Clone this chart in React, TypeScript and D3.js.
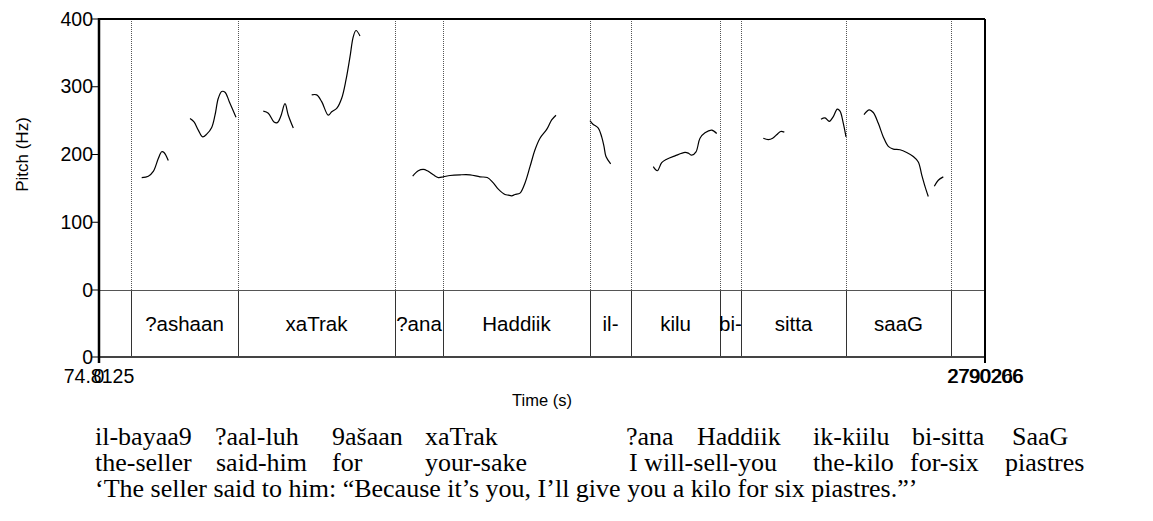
import { useEffect, useRef } from "react";
import * as d3 from "d3";

const width = 1153;
const height = 521;
const frame = { left: 99, right: 985, top: 19, pitchBottom: 290, tierBottom: 357 };

// time axis (s, relative to 74.8125)
const timeDomain = [0, 2.790206];
const pitchTicks = [0, 100, 200, 300, 400];

const boundaries = [0.1008, 0.4377, 0.9322, 1.0833, 1.5463, 1.6754, 1.9557, 2.0218, 2.3525, 2.6831];
const words = ["?ashaan", "xaTrak", "?ana", "Haddiik", "il-", "kilu", "bi-", "sitta", "saaG"];

// pitch contours [time, Hz]
const pitch1 = [[0.1345, 166], [0.1553, 168], [0.171, 175], [0.1867, 194], [0.1975, 204], [0.2047, 203], [0.2182, 191]];
const pitch2 = [[0.2866, 253], [0.2992, 248], [0.3127, 236], [0.3266, 226], [0.3392, 230], [0.3549, 240], [0.3653, 258], [0.3757, 283], [0.3864, 293], [0.3968, 292], [0.4103, 278], [0.4314, 255]];
const pitch3 = [[0.5174, 264], [0.5332, 261], [0.5511, 248], [0.5615, 247], [0.5722, 256], [0.5857, 275], [0.5961, 258], [0.6119, 239]];
const pitch4 = [[0.6698, 288], [0.6856, 288], [0.7013, 278], [0.7221, 258], [0.7328, 263], [0.7486, 268], [0.7643, 283], [0.7778, 310], [0.7904, 344], [0.8008, 374], [0.8093, 383], [0.8219, 375]];
const pitch5 = [[0.9879, 168], [1.0055, 176], [1.0213, 178], [1.0339, 176], [1.0528, 170], [1.0685, 166], [1.0843, 167], [1.1054, 169], [1.1369, 170], [1.1684, 170], [1.1998, 167], [1.2228, 166], [1.2417, 158], [1.2575, 149], [1.2786, 141], [1.289, 140], [1.2997, 139], [1.3101, 141], [1.3258, 143], [1.3416, 158], [1.3573, 182], [1.3731, 207], [1.3888, 224], [1.4099, 237], [1.4256, 251], [1.4392, 258]];
const pitch6 = [[1.5463, 250], [1.5548, 245], [1.5724, 239], [1.5831, 226], [1.5903, 212], [1.5966, 197], [1.6114, 186]];
const pitch7 = [[1.7456, 182], [1.7582, 176], [1.7721, 188], [1.7878, 193], [1.8139, 198], [1.8454, 203], [1.8558, 202], [1.8665, 199], [1.8801, 204], [1.8927, 224], [1.9084, 232], [1.9295, 236], [1.9453, 231]];
const pitch8 = [[2.092, 224], [2.1078, 222], [2.1216, 224], [2.1361, 230], [2.1468, 234], [2.1582, 233]];
const pitch9 = [[2.2737, 252], [2.2863, 254], [2.2999, 249], [2.3125, 256], [2.3251, 267], [2.3336, 264], [2.344, 246], [2.3525, 226]];
const pitch10 = [[2.4091, 259], [2.4258, 266], [2.4384, 262], [2.4542, 246], [2.4699, 226], [2.4857, 212], [2.5014, 208], [2.5225, 207], [2.5436, 203], [2.5644, 197], [2.5801, 189], [2.5909, 170], [2.6012, 153], [2.6116, 138]];
const pitch11 = [[2.6306, 153], [2.6431, 162], [2.6589, 167]];
const contours = [pitch1, pitch2, pitch3, pitch4, pitch5, pitch6, pitch7, pitch8, pitch9, pitch10, pitch11];

// interlinear gloss
const glossLine1 = ["il-bayaa9", "?aal-luh", "9ašaan", "xaTrak", "?ana", "Haddiik", "ik-kiilu", "bi-sitta", "SaaG"];
const glossLine2 = ["the-seller", "said-him", "for", "your-sake", "I will-sell-you", "the-kilo", "for-six", "piastres"];
const translation = "\u2018The seller said to him: \u201cBecause it\u2019s you, I\u2019ll give you a kilo for six piastres.\u201d\u2019";
const glossX1 = [95, 215, 332, 425, 626, 697, 813, 912, 1012];
const glossX2 = [95, 216, 332, 425, 629, 813, 910, 1005];

const App = () => {
  const svgRef = useRef<SVGSVGElement>(null);

  useEffect(() => {
    const svg = d3.select(svgRef.current);
    svg.selectAll("*").remove();
    const sans = "'Liberation Sans', Arial, sans-serif";
    const serif = "'Liberation Serif', 'Times New Roman', serif";

    const x = d3.scaleLinear().domain(timeDomain).range([frame.left, frame.right]);
    const y = d3.scaleLinear().domain([0, 400]).range([frame.pitchBottom, frame.top]);

    // boundaries in the pitch panel (dotted)
    svg
      .append("g")
      .selectAll("line")
      .data(boundaries)
      .join("line")
      .attr("x1", (d) => Math.round(x(d)) + 0.5)
      .attr("x2", (d) => Math.round(x(d)) + 0.5)
      .attr("y1", frame.top)
      .attr("y2", frame.pitchBottom)
      .attr("stroke", "#555")
      .attr("stroke-width", 1)
      .attr("stroke-dasharray", "1,1");

    // boundaries in the tier
    svg
      .append("g")
      .selectAll("line")
      .data(boundaries)
      .join("line")
      .attr("x1", (d) => Math.round(x(d)) + 0.5)
      .attr("x2", (d) => Math.round(x(d)) + 0.5)
      .attr("y1", frame.pitchBottom)
      .attr("y2", frame.tierBottom)
      .attr("stroke", "#333")
      .attr("stroke-width", 1);

    // tier labels
    svg
      .append("g")
      .selectAll("text")
      .data(words)
      .join("text")
      .attr("x", (_, i) => (x(boundaries[i]) + x(boundaries[i + 1])) / 2)
      .attr("y", 331)
      .attr("text-anchor", "middle")
      .attr("font-family", sans)
      .attr("font-size", 20.5)
      .text((d) => d);

    // pitch contours
    const line = d3
      .line<number[]>()
      .x((d) => x(d[0]))
      .y((d) => y(d[1]))
      .curve(d3.curveCatmullRom);
    svg
      .append("g")
      .selectAll("path")
      .data(contours)
      .join("path")
      .attr("fill", "none")
      .attr("stroke", "#000")
      .attr("stroke-width", 1.2)
      .attr("d", (d) => line(d));

    // separator between pitch and tier
    svg
      .append("line")
      .attr("x1", frame.left)
      .attr("x2", frame.right)
      .attr("y1", frame.pitchBottom + 0.5)
      .attr("y2", frame.pitchBottom + 0.5)
      .attr("stroke", "#555");

    // frame
    svg
      .append("line")
      .attr("x1", frame.left)
      .attr("x2", frame.right)
      .attr("y1", frame.tierBottom)
      .attr("y2", frame.tierBottom)
      .attr("stroke", "#444")
      .attr("stroke-width", 2);
    svg
      .append("line")
      .attr("x1", frame.left)
      .attr("x2", frame.right)
      .attr("y1", frame.top)
      .attr("y2", frame.top)
      .attr("stroke", "#000")
      .attr("stroke-width", 2);
    svg
      .append("line")
      .attr("x1", frame.right)
      .attr("x2", frame.right)
      .attr("y1", frame.top)
      .attr("y2", frame.tierBottom + 6)
      .attr("stroke", "#000")
      .attr("stroke-width", 2);
    svg
      .append("line")
      .attr("x1", frame.left)
      .attr("x2", frame.left)
      .attr("y1", frame.top - 1)
      .attr("y2", frame.tierBottom + 6)
      .attr("stroke", "#000")
      .attr("stroke-width", 2.5);

    // y axis ticks
    const yAxis = svg.append("g");
    yAxis
      .selectAll("line")
      .data(pitchTicks)
      .join("line")
      .attr("x1", frame.left - 7)
      .attr("x2", frame.left)
      .attr("y1", (d) => y(d))
      .attr("y2", (d) => y(d))
      .attr("stroke", "#000");
    yAxis
      .selectAll("text")
      .data(pitchTicks)
      .join("text")
      .attr("x", frame.left - 6)
      .attr("y", (d) => y(d) + 6.5)
      .attr("text-anchor", "end")
      .attr("font-family", sans)
      .attr("font-size", 19.5)
      .text((d) => d);
    // tier zero tick
    yAxis
      .append("line")
      .attr("x1", frame.left - 7)
      .attr("x2", frame.left)
      .attr("y1", frame.tierBottom)
      .attr("y2", frame.tierBottom)
      .attr("stroke", "#000");
    yAxis
      .append("text")
      .attr("x", frame.left - 6)
      .attr("y", frame.tierBottom + 6.5)
      .attr("text-anchor", "end")
      .attr("font-family", sans)
      .attr("font-size", 19.5)
      .text("0");

    // x axis labels
    const xLabels = [
      { t: timeDomain[0], s: "74.8125", dx: 0 },
      { t: timeDomain[0], s: "0", dx: 0 },
      { t: timeDomain[1], s: "2790206", dx: 0 },
      { t: timeDomain[1], s: "2790266", dx: 1 },
    ];
    svg
      .append("g")
      .selectAll("text")
      .data(xLabels)
      .join("text")
      .attr("x", (d) => x(d.t) + d.dx)
      .attr("y", 383)
      .attr("text-anchor", "middle")
      .attr("font-family", sans)
      .attr("font-size", 19.5)
      .text((d) => d.s);

    svg
      .append("text")
      .attr("x", (frame.left + frame.right) / 2)
      .attr("y", 406)
      .attr("text-anchor", "middle")
      .attr("font-family", sans)
      .attr("font-size", 16.5)
      .text("Time (s)");
    svg
      .append("text")
      .attr("transform", `translate(28,${(frame.top + frame.pitchBottom) / 2}) rotate(-90)`)
      .attr("text-anchor", "middle")
      .attr("font-family", sans)
      .attr("font-size", 17)
      .text("Pitch (Hz)");

    // gloss text
    const gloss = svg.append("g").attr("font-family", serif).attr("font-size", 26);
    gloss
      .selectAll("text.l1")
      .data(glossLine1)
      .join("text")
      .attr("class", "l1")
      .attr("x", (_, i) => glossX1[i])
      .attr("y", 445)
      .text((d) => d);
    gloss
      .selectAll("text.l2")
      .data(glossLine2)
      .join("text")
      .attr("class", "l2")
      .attr("x", (_, i) => glossX2[i])
      .attr("y", 471)
      .text((d) => d);
    gloss.append("text").attr("x", 95).attr("y", 497).text(translation);
  }, []);

  return (
    <svg
      ref={svgRef}
      width={width}
      height={height}
      style={{ position: "absolute", left: 0, top: 0, background: "#fff" }}
    ></svg>
  );
};

export default App;
